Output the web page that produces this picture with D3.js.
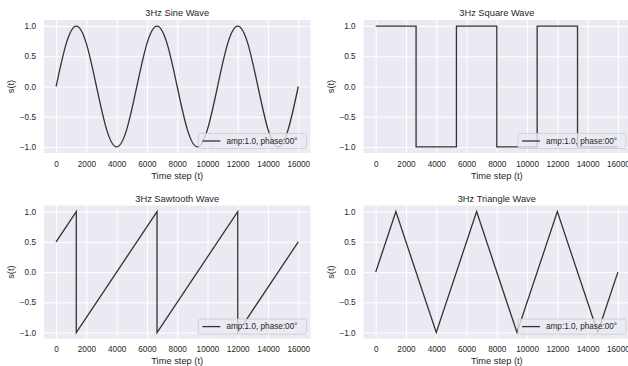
<!DOCTYPE html>
<html>
<head>
<meta charset="utf-8">
<script src="https://cdn.jsdelivr.net/npm/d3@7"></script>
<style>
  body { margin: 0; background: #fff; }
  svg text { font-family: "Liberation Sans", Arial, sans-serif; fill: #262626; }
</style>
</head>
<body>
<svg id="chart" width="628" height="366"></svg>
<script>
// values
const titles = ["3Hz Sine Wave", "3Hz Square Wave", "3Hz Sawtooth Wave", "3Hz Triangle Wave"]
const legendLabel = "amp:1.0, phase:00\u00b0"
const xTicks = [0, 2000, 4000, 6000, 8000, 10000, 12000, 14000, 16000]
const yTicks = [-1.0, -0.5, 0.0, 0.5, 1.0]

const sineT = [0, 667, 1333, 2000, 2667, 3333, 4000, 4667, 5333, 6000, 6667, 7333, 8000,
    8667, 9333, 10000, 10667, 11333, 12000, 12667, 13333, 14000, 14667, 15333, 16000]
const sineValues = [0, 0.71, 1, 0.71, 0, -0.71, -1, -0.71, 0, 0.71, 1, 0.71, 0,
    -0.71, -1, -0.71, 0, 0.71, 1, 0.71, 0, -0.71, -1, -0.71, 0]

const squareT = [0, 2667, 5333, 8000, 10667, 13333, 16000]
const squareValues = [1, -1, 1, -1, 1, -1, -1]

const sawT = [0, 1333, 1333, 6667, 6667, 12000, 12000, 16000]
const sawValues = [0.5, 1, -1, 1, -1, 1, -1, 0.5]

const triT = [0, 1333, 4000, 6667, 9333, 12000, 14667, 16000]
const triValues = [0, 1, -1, 1, -1, 1, -1, 0]

const panels = [
    { title: titles[0], t: sineT, v: sineValues, curve: d3.curveNatural, left: 44, top: 20 },
    { title: titles[1], t: squareT, v: squareValues, curve: d3.curveStepAfter, left: 363.6, top: 20 },
    { title: titles[2], t: sawT, v: sawValues, curve: d3.curveLinear, left: 44, top: 205.6 },
    { title: titles[3], t: triT, v: triValues, curve: d3.curveLinear, left: 363.6, top: 205.6 }
]

const width = 266.4
const height = 133
const svg = d3.select("#chart")

const fmtY = d => d3.format(".1f")(d).replace("-", "\u2212")

panels.forEach(p => {
    const x = d3.scaleLinear().domain([-800, 16800]).range([0, width])
    const y = d3.scaleLinear().domain([-1.1, 1.1]).range([height, 0])

    const g = svg.append("g").attr("transform", `translate(${p.left}, ${p.top})`)

    g.append("rect")
        .attr("width", width)
        .attr("height", height)
        .attr("fill", "#eaeaf2")

    // grid
    g.append("g")
        .attr("transform", `translate(0, ${height})`)
        .call(d3.axisBottom(x).tickValues(xTicks).tickSize(-height).tickFormat(""))
        .call(a => a.select(".domain").remove())
        .call(a => a.selectAll("line").attr("stroke", "#fff").attr("stroke-width", 1))
    g.append("g")
        .call(d3.axisLeft(y).tickValues(yTicks).tickSize(-width).tickFormat(""))
        .call(a => a.select(".domain").remove())
        .call(a => a.selectAll("line").attr("stroke", "#fff").attr("stroke-width", 1))

    // tick labels
    g.append("g")
        .attr("transform", `translate(0, ${height})`)
        .call(d3.axisBottom(x).tickValues(xTicks).tickSize(0).tickPadding(8).tickFormat(d3.format("d")))
        .call(a => a.select(".domain").remove())
        .call(a => a.selectAll("text").attr("font-size", 8.2).attr("font-family", null).attr("fill", "#262626"))
    g.append("g")
        .call(d3.axisLeft(y).tickValues(yTicks).tickSize(0).tickPadding(8).tickFormat(fmtY))
        .call(a => a.select(".domain").remove())
        .call(a => a.selectAll("text").attr("font-size", 8.2).attr("font-family", null).attr("fill", "#262626"))

    const data = p.t.map((t, i) => ({ t, v: p.v[i] }))
    g.append("path")
        .datum(data)
        .attr("fill", "none")
        .attr("stroke", "#333")
        .attr("stroke-width", 1.3)
        .attr("d", d3.line().x(d => x(d.t)).y(d => y(d.v)).curve(p.curve))

    g.append("text")
        .attr("x", width / 2)
        .attr("y", -4)
        .attr("text-anchor", "middle")
        .attr("font-size", 9.3)
        .text(p.title)

    g.append("text")
        .attr("x", width / 2)
        .attr("y", height + 25.5)
        .attr("text-anchor", "middle")
        .attr("font-size", 9.3)
        .text("Time step (t)")

    g.append("text")
        .attr("transform", `translate(-33, ${height / 2}) rotate(-90)`)
        .attr("dy", "0.35em")
        .attr("text-anchor", "middle")
        .attr("font-size", 9.3)
        .text("s(t)")

    // legend
    const lw = 108, lh = 15
    const legend = g.append("g")
        .attr("transform", `translate(${width - 4 - lw}, ${height - 4.5 - lh})`)
    legend.append("rect")
        .attr("width", lw)
        .attr("height", lh)
        .attr("rx", 2)
        .attr("fill", "#eaeaf2")
        .attr("fill-opacity", 0.8)
        .attr("stroke", "#cccccc")
        .attr("stroke-width", 0.8)
    legend.append("line")
        .attr("x1", 4).attr("x2", 22)
        .attr("y1", lh / 2).attr("y2", lh / 2)
        .attr("stroke", "#333")
        .attr("stroke-width", 1.3)
    legend.append("text")
        .attr("x", 28)
        .attr("y", lh / 2)
        .attr("dy", "0.35em")
        .attr("font-size", 8.2)
        .text(legendLabel)
})
</script>
</body>
</html>
